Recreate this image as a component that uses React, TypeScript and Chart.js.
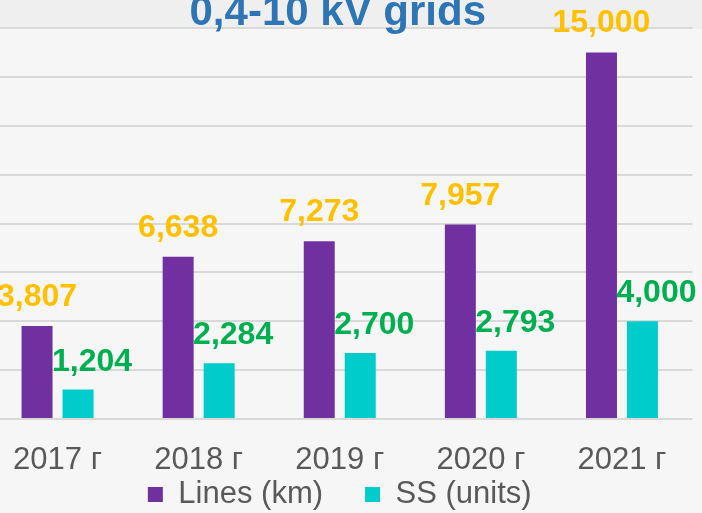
import React, { useEffect, useRef } from "react";
import { Chart, registerables } from "chart.js";

Chart.register(...registerables);

// ---- data ----
const TITLE = "0,4-10 kV grids";
const years = ["2017 г", "2018 г", "2019 г", "2020 г", "2021 г"];
const seriesNames = ["Lines (km)", "SS (units)"];
const linesKm = [3807, 6638, 7273, 7957, 15000];
const ssUnits = [1204, 2284, 2700, 2793, 4000];
const Y_MAX = 16000;
const Y_STEP = 2000;

// ---- styles ----
const FONT = "'Liberation Sans', Arial, sans-serif";
const PURPLE = "#7030A0";
const CYAN = "#00CCCC";
const GOLD = "#FFC000";
const GREEN = "#00B050";
const GREY_TEXT = "#595959";
const TITLE_BLUE = "#2E75B6";

const bgPlugin = {
  id: "bgFill",
  beforeDraw(chart: any) {
    const { ctx, chartArea, width, height } = chart;
    ctx.save();
    ctx.fillStyle = "#EFEFEF";
    ctx.fillRect(0, 0, width, height);
    ctx.fillStyle = "#F6F6F6";
    ctx.fillRect(0, chartArea.top + 1, width, height - chartArea.top);
    ctx.restore();
  },
};

const titlePlugin = {
  id: "titleText",
  afterDraw(chart: any) {
    const { ctx, chartArea } = chart;
    ctx.save();
    ctx.font = `bold 42px ${FONT}`;
    ctx.fillStyle = TITLE_BLUE;
    ctx.textAlign = "center";
    ctx.textBaseline = "alphabetic";
    ctx.fillText(TITLE, (chartArea.left + chartArea.right) / 2 - 2, chartArea.top - 3);
    ctx.restore();
  },
};

const labelStyles = [
  { color: GOLD, dx: 0, dy: 20 },
  { color: GREEN, dx: 14, dy: 19 },
];

const valueLabelPlugin = {
  id: "valueLabels",
  afterDatasetsDraw(chart: any) {
    const { ctx } = chart;
    ctx.save();
    ctx.font = `bold 32px ${FONT}`;
    ctx.textAlign = "center";
    ctx.textBaseline = "alphabetic";
    chart.data.datasets.forEach((ds: any, i: number) => {
      const meta = chart.getDatasetMeta(i);
      const st = labelStyles[i];
      ctx.fillStyle = st.color;
      meta.data.forEach((bar: any, j: number) => {
        const v = ds.data[j] as number;
        ctx.fillText(v.toLocaleString("en-US"), bar.x + st.dx, bar.y - st.dy);
      });
    });
    ctx.restore();
  },
};

export default function App() {
  const ref = useRef<HTMLCanvasElement>(null);

  useEffect(() => {
    Chart.defaults.font.family = FONT;
    const chart = new Chart(ref.current as HTMLCanvasElement, {
      type: "bar",
      data: {
        labels: years,
        datasets: [
          {
            label: seriesNames[0],
            data: linesKm,
            backgroundColor: PURPLE,
            categoryPercentage: 0.581,
            barPercentage: 0.756,
          },
          {
            label: seriesNames[1],
            data: ssUnits,
            backgroundColor: CYAN,
            categoryPercentage: 0.581,
            barPercentage: 0.756,
          },
        ],
      },
      options: {
        animation: false,
        responsive: false,
        devicePixelRatio: 1,
        layout: { padding: { top: 28, right: 9.5, left: 0, bottom: 0 } },
        scales: {
          x: {
            grid: { display: false },
            border: { display: false },
            ticks: {
              color: GREY_TEXT,
              font: { size: 31, lineHeight: 1, family: FONT },
              mirror: true,
              padding: -57,
              maxRotation: 0,
              autoSkip: false,
            },
            afterFit(scale: any) {
              scale.height = 18;
            },
          },
          y: {
            min: 0,
            max: Y_MAX,
            ticks: { display: false, stepSize: Y_STEP },
            grid: { color: "#D9D9D9", lineWidth: 2, drawTicks: false },
            border: { display: false },
            afterFit(scale: any) {
              scale.width = 0;
            },
          },
        },
        plugins: {
          legend: {
            position: "bottom",
            labels: {
              boxWidth: 15,
              boxHeight: 15,
              padding: 42,
              color: GREY_TEXT,
              font: { size: 31, family: FONT },
            },
          },
          title: { display: false },
          tooltip: { enabled: false },
        },
      },
      plugins: [bgPlugin, valueLabelPlugin, titlePlugin],
    });
    return () => chart.destroy();
  }, []);

  return (
    <div
      style={{
        position: "fixed",
        left: 0,
        top: 0,
        width: 702,
        height: 513,
        overflow: "hidden",
        background: "#EFEFEF",
      }}
    >
      <canvas
        ref={ref}
        width={715}
        height={520}
        style={{ position: "absolute", left: -13, top: 0, width: 715, height: 520 }}
      />
    </div>
  );
}
